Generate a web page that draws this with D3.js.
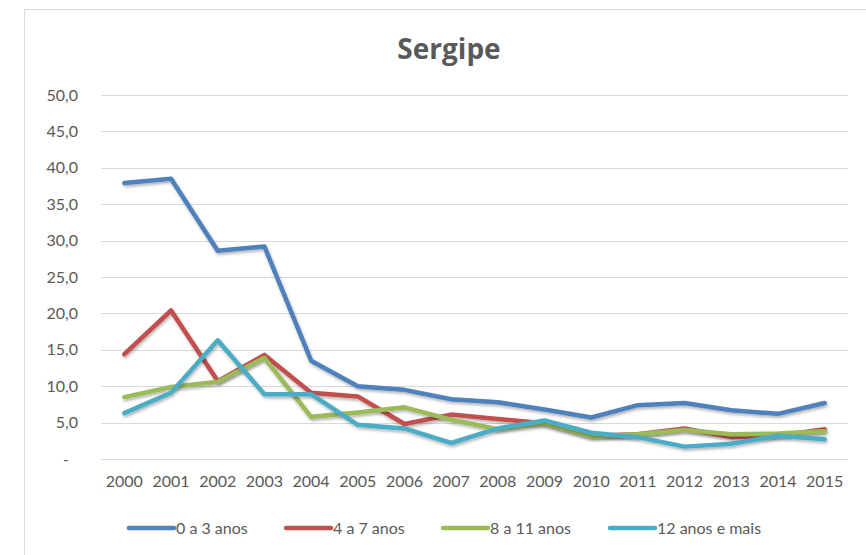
<!DOCTYPE html>
<html>
<head>
<meta charset="utf-8">
<script src="https://cdn.jsdelivr.net/npm/d3@7"></script>
<style>
  body { margin: 0; background: #fff; }
  svg { display: block; font-family: Lato, "Open Sans", sans-serif; }
</style>
</head>
<body>
<svg id="chart" width="866" height="555"></svg>
<script>
'use strict';

// Data.
var years = ['2000', '2001', '2002', '2003', '2004', '2005', '2006', '2007',
  '2008', '2009', '2010', '2011', '2012', '2013', '2014', '2015'];
var seriesNames = ['0 a 3 anos', '4 a 7 anos', '8 a 11 anos', '12 anos e mais'];
var age0to3 = [37.9, 38.5, 28.6, 29.2, 13.5, 10.0, 9.5, 8.2, 7.8, 6.8, 5.7, 7.4, 7.7, 6.7, 6.2, 7.7];
var age4to7 = [14.4, 20.4, 10.7, 14.3, 9.1, 8.6, 4.8, 6.1, 5.5, 4.9, 3.2, 3.4, 4.2, 3.0, 3.2, 4.1];
var age8to11 = [8.5, 9.9, 10.6, 13.9, 5.8, 6.4, 7.1, 5.4, 4.1, 4.9, 3.1, 3.4, 4.0, 3.4, 3.5, 3.8];
var age12plus = [6.3, 9.1, 16.3, 8.9, 8.9, 4.7, 4.2, 2.2, 4.2, 5.3, 3.6, 3.0, 1.7, 2.1, 3.2, 2.7];
var yTicks = [0, 5, 10, 15, 20, 25, 30, 35, 40, 45, 50];

var colors = ['#4f81bd', '#c0504d', '#9bbb59', '#4bacc6'];
var allSeries = [age0to3, age4to7, age8to11, age12plus];

var svg = d3.select('#chart');
var textColor = '#595959';

// Chart frame (runs past the right and bottom of the window).
svg.append('rect')
  .attr('x', 24.5).attr('y', 9.5)
  .attr('width', 900).attr('height', 600)
  .attr('fill', '#fff')
  .attr('stroke', '#d9d9d9');

// Soft shadow under the lines.
var defs = svg.append('defs');
var filter = defs.append('filter').attr('id', 'shadow')
  .attr('x', '-5%').attr('y', '-5%').attr('width', '110%').attr('height', '120%');
filter.append('feDropShadow')
  .attr('dx', 1).attr('dy', 2).attr('stdDeviation', 1.5)
  .attr('flood-color', '#000').attr('flood-opacity', 0.3);

svg.append('text')
  .attr('x', 449).attr('y', 59)
  .attr('text-anchor', 'middle')
  .attr('font-family', '"Open Sans", Lato, sans-serif')
  .attr('font-size', 28).attr('font-weight', 'bold')
  .attr('fill', textColor)
  .text('Sergipe');

var x = d3.scaleBand().domain(years).range([101, 848]);
var y = d3.scaleLinear().domain([0, 50]).range([459, 95]);

// Gridlines
svg.append('g').selectAll('line')
  .data(yTicks)
  .enter().append('line')
  .attr('x1', 101).attr('x2', 848)
  .attr('y1', function(d) { return Math.round(y(d)) + 0.5; })
  .attr('y2', function(d) { return Math.round(y(d)) + 0.5; })
  .attr('stroke', '#d9d9d9')
  .attr('stroke-width', 1);

// Y axis labels (zero shown as a dash, set in from the right like Excel)
var yAxis = d3.axisLeft(y)
  .tickValues(yTicks)
  .tickSize(0)
  .tickPadding(0)
  .tickFormat(function(d) {
    return d === 0 ? '-' : d3.format('.1f')(d).replace('.', ',');
  });
var yg = svg.append('g').attr('transform', 'translate(78,0)').call(yAxis);
yg.select('.domain').remove();
yg.selectAll('text')
  .attr('font-family', 'Lato, "Open Sans", sans-serif')
  .attr('font-size', 16).attr('fill', textColor)
  .attr('dx', function(d) { return d === 0 ? -9 : 0; });

// X axis labels
var xAxis = d3.axisBottom(x).tickSize(0).tickPadding(0);
var xg = svg.append('g').attr('transform', 'translate(0,476)').call(xAxis);
xg.select('.domain').remove();
xg.selectAll('text')
  .attr('font-family', 'Lato, "Open Sans", sans-serif')
  .attr('font-size', 16).attr('fill', textColor);

// Lines
var line = d3.line()
  .x(function(d, i) { return x(years[i]) + x.bandwidth() / 2; })
  .y(function(d) { return y(d); });

svg.append('g').selectAll('path')
  .data(allSeries)
  .enter().append('path')
  .attr('d', line)
  .attr('fill', 'none')
  .attr('stroke', function(d, i) { return colors[i]; })
  .attr('stroke-width', 4.5)
  .attr('stroke-linecap', 'round')
  .attr('stroke-linejoin', 'round')
  .attr('filter', 'url(#shadow)');

// Legend
var legendX = [129, 286, 443, 610];
var legend = svg.append('g').selectAll('g')
  .data(seriesNames)
  .enter().append('g')
  .attr('transform', function(d, i) { return 'translate(' + legendX[i] + ',528)'; });
legend.append('line')
  .attr('x1', 0).attr('x2', 45)
  .attr('stroke', function(d, i) { return colors[i]; })
  .attr('stroke-width', 4.5)
  .attr('stroke-linecap', 'round');
legend.append('text')
  .attr('x', 47).attr('dy', '0.35em')
  .attr('font-size', 16).attr('fill', textColor)
  .text(function(d) { return d; });
</script>
</body>
</html>
